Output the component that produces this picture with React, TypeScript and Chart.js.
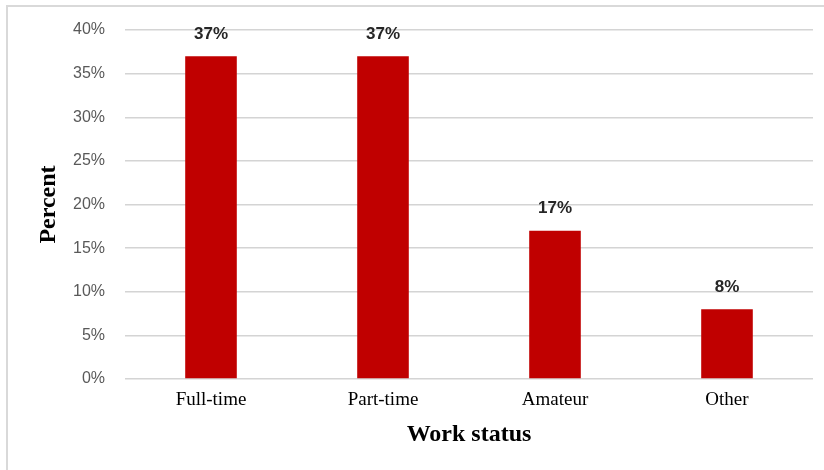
import React, { useEffect, useRef } from "react";
import { Chart, registerables } from "chart.js";

Chart.register(...registerables);

const categories = ["Full-time", "Part-time", "Amateur", "Other"];
const percentValues = [37, 37, 17, 8];
const yTickMin = 0;
const yTickMax = 40;
const yTickStep = 5;

const valueLabelPlugin = {
  id: "valueLabels",
  afterDatasetsDraw(chart: any) {
    const ctx = chart.ctx;
    const meta = chart.getDatasetMeta(0);
    const data = chart.data.datasets[0].data as number[];
    ctx.save();
    ctx.font = "bold 17px 'Liberation Sans', Arial, sans-serif";
    ctx.fillStyle = "#262626";
    ctx.textAlign = "center";
    ctx.textBaseline = "middle";
    meta.data.forEach((bar: any, i: number) => {
      ctx.fillText(data[i] + "%", bar.x, bar.y - 22);
    });
    ctx.restore();
  },
};

export default function App() {
  const canvasRef = useRef<HTMLCanvasElement | null>(null);

  useEffect(() => {
    if (!canvasRef.current) return;
    const chart = new Chart(canvasRef.current, {
      type: "bar",
      data: {
        labels: categories,
        datasets: [
          {
            data: percentValues,
            backgroundColor: "#C00000",
            borderWidth: 0,
            categoryPercentage: 1,
            barPercentage: 0.3,
          },
        ],
      },
      options: {
        responsive: false,
        animation: false,
        devicePixelRatio: 1,
        layout: { padding: { left: 30, top: 30, right: 11, bottom: 17 } },
        plugins: {
          legend: { display: false },
          tooltip: { enabled: false },
        },
        scales: {
          x: {
            grid: { display: false, drawTicks: false },
            border: { display: false },
            ticks: {
              padding: 10,
              color: "#000000",
              font: { family: "'Liberation Serif', 'Times New Roman', serif", size: 19 },
            },
            title: {
              display: true,
              text: "Work status",
              color: "#000000",
              font: { family: "'Liberation Serif', 'Times New Roman', serif", size: 24, weight: "bold" },
            },
            afterFit(scale: any) {
              scale.height = 74;
            },
          },
          y: {
            min: yTickMin,
            max: yTickMax,
            grid: { color: "#d4d4d4", lineWidth: 1.5, drawTicks: false },
            border: { display: false },
            ticks: {
              stepSize: yTickStep,
              padding: 20,
              color: "#595959",
              font: { family: "'Liberation Sans', Arial, sans-serif", size: 16 },
              callback: (v: any) => v + "%",
            },
            title: {
              display: true,
              text: "Percent",
              color: "#000000",
              font: { family: "'Liberation Serif', 'Times New Roman', serif", size: 24, weight: "bold" },
            },
            afterFit(scale: any) {
              scale.width = 95;
            },
          },
        },
      },
      plugins: [valueLabelPlugin],
    });
    return () => chart.destroy();
  }, []);

  return (
    <div
      style={{
        position: "fixed",
        left: 0,
        top: 0,
        width: 824,
        height: 470,
        background: "#ffffff",
        overflow: "hidden",
      }}
    >
      <div
        style={{
          position: "absolute",
          left: 6,
          top: 5,
          width: 840,
          height: 490,
          borderTop: "2px solid #d9d9d9",
          borderLeft: "2px solid #d9d9d9",
        }}
      />
      <canvas
        ref={canvasRef}
        width={824}
        height={470}
        style={{ position: "absolute", left: 0, top: 0, width: 824, height: 470 }}
      />
    </div>
  );
}
